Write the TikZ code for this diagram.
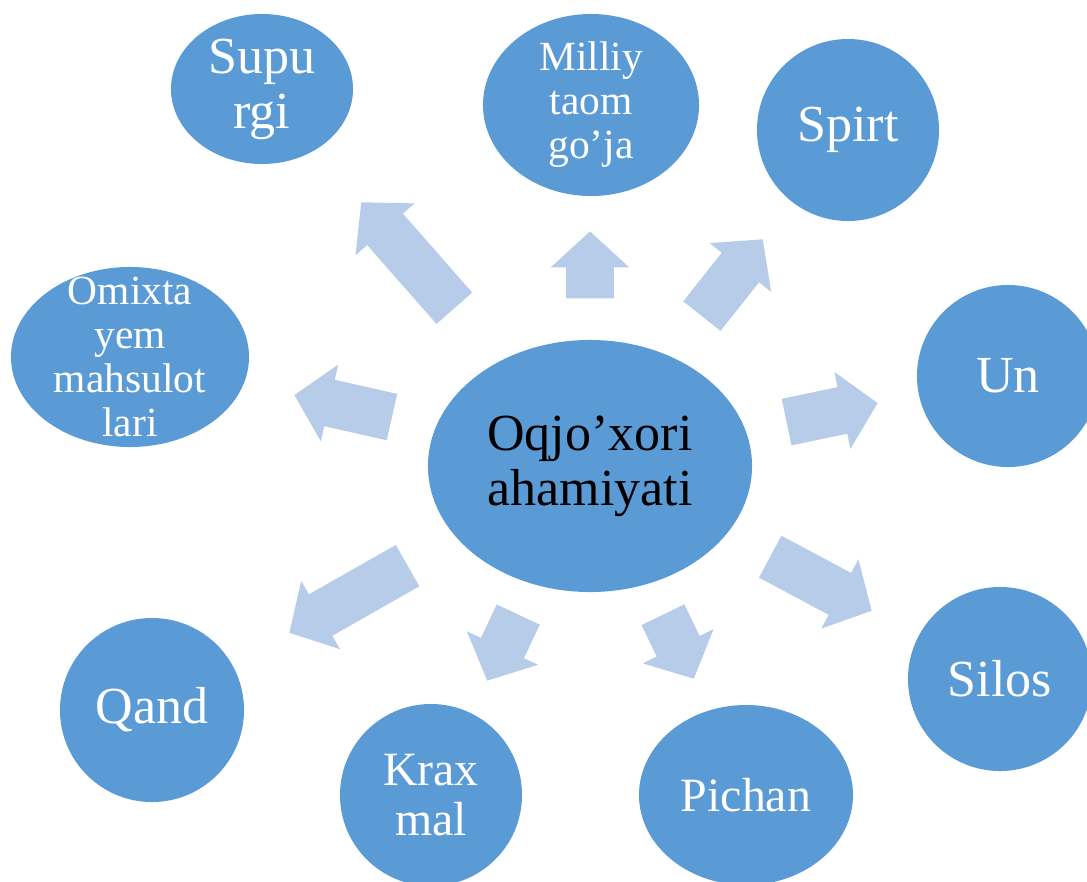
\documentclass[tikz,border=0pt]{standalone}
\usepackage{fontspec}
\setmainfont{Liberation Serif}
\usetikzlibrary{shapes.geometric, shapes.arrows}
\definecolor{bubblue}{HTML}{5B9BD5}
\definecolor{arrblue}{HTML}{B7CCE8}
\tikzset{
  bubble/.style={ellipse, fill=bubblue, inner sep=0pt},
  blk/.style={single arrow, fill=arrblue, inner xsep=0pt, inner ysep=0.5875cm,
    minimum width=0pt, single arrow head extend=0.3875cm, single arrow tip angle=95, anchor=tip},
  bigtxt/.style={align=center, text=white, font=\fontsize{37}{39}\selectfont},
  midtxt/.style={align=center, text=white, font=\fontsize{34}{35.5}\selectfont},
  smalltxt/.style={align=center, text=white, font=\fontsize{29.5}{31.3}\selectfont}
}
\begin{document}
\begin{tikzpicture}[x=0.025cm, y=-0.025cm]
    \useasboundingbox (0,0) rectangle (1087,882);
    \clip (0,0) rectangle (1087,882);

    \node[bubble, minimum width=8.1cm, minimum height=6.3cm] (main) at (590,466) {};
    \node[bigtxt, text=black] (mainT) at (main) {Oqjo’xori\\ahamiyati};

    \node[bubble, minimum width=4.55cm, minimum height=3.75cm] (sup) at (262,89) {};
    \node[bigtxt] (supT) at (sup) {Supu\\rgi};
    \node[bubble, minimum width=5.4cm, minimum height=4.55cm] (mil) at (591,105) {};
    \node[smalltxt] (milT) at (mil) {Milliy\\taom\\go’ja};
    \node[bubble, minimum width=4.55cm, minimum height=4.55cm] (spi) at (848,130) {};
    \node[bigtxt] (spiT) at (spi) {Spirt};
    \node[bubble, minimum width=5.95cm, minimum height=4.5cm] (omi) at (130,357) {};
    \node[smalltxt] (omiT) at (omi) {Omixta\\yem\\mahsulot\\lari};
    \node[bubble, minimum width=4.55cm, minimum height=4.55cm] (un) at (1008,376) {};
    \node[bigtxt] (unT) at (un) {Un};
    \node[bubble, minimum width=4.6cm, minimum height=4.6cm] (sil) at (1000,679) {};
    \node[bigtxt] (silT) at (sil) {Silos};
    \node[bubble, minimum width=4.6cm, minimum height=4.6cm] (qan) at (152,710) {};
    \node[bigtxt] (qanT) at (qan) {Qand};
    \node[bubble, minimum width=4.55cm, minimum height=4.55cm] (kra) at (431,795) {};
    \node[midtxt] (kraT) at (kra) {Krax\\mal};
    \node[bubble, minimum width=5.35cm, minimum height=4.5cm] (pic) at (746,795) {};
    \node[midtxt] (picT) at (pic) {Pichan};

    \node[blk, rotate=131.3, minimum height=3.525cm] (toSup) at (361,202) {};
    \node[blk, rotate=90, minimum height=1.675cm] (toMil) at (590,231) {};
    \node[blk, rotate=51.6, minimum height=2.45cm] (toSpi) at (763,239) {};
    \node[blk, rotate=167.3, minimum height=2.5cm] (toOmi) at (294,395) {};
    \node[blk, rotate=11.8, minimum height=2.325cm] (toUn) at (878,403) {};
    \node[blk, rotate=209.6, minimum height=3.4cm] (toQan) at (289,633) {};
    \node[blk, rotate=244.8, minimum height=1.825cm] (toKra) at (487,681) {};
    \node[blk, rotate=-64.2, minimum height=1.775cm] (toPic) at (694,679) {};
    \node[blk, rotate=-28.1, minimum height=2.875cm] (toSil) at (872,611) {};
\end{tikzpicture}
\end{document}
